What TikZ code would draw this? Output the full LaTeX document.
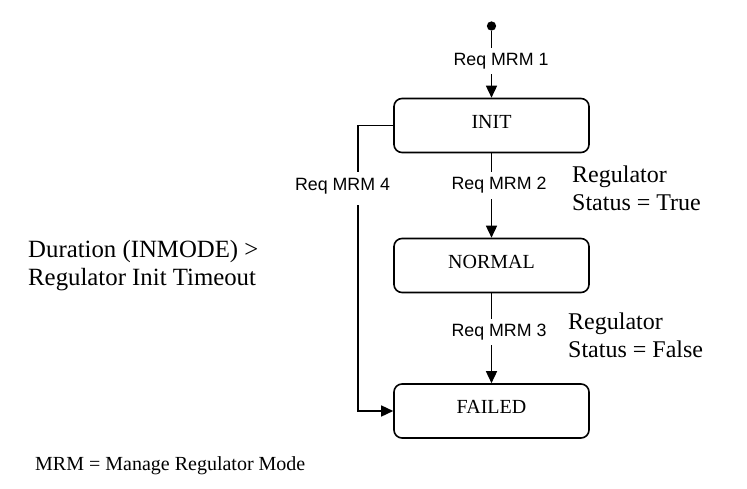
\documentclass[tikz,border=0pt]{standalone}
\usepackage{fontspec}
\setmainfont{Liberation Serif}
\setsansfont{Liberation Sans}
\usetikzlibrary{arrows.meta}
\begin{document}
\begin{tikzpicture}[x=1pt,y=-1pt,
  state/.style={draw, line width=1.6pt, rounded corners=8pt, minimum width=195pt,
    minimum height=54pt, inner sep=0pt, text depth=7.5pt, font=\fontsize{20}{24}\selectfont},
  conn/.style={line width=1.5pt, -{Triangle[length=12pt,width=11pt]}},
  trig/.style={fill=white, inner xsep=2pt, inner ysep=5pt,
    font=\sffamily\fontsize{17.8}{21}\selectfont},
  cond/.style={align=left, inner sep=0pt, anchor=north west,
    font=\fontsize{24}{27.7}\selectfont},
  startdot/.style={circle, fill, inner sep=0pt, minimum size=9.3pt}]
\useasboundingbox (0,0) rectangle (747,489);
\node[startdot] (start) at (491.5,26) {};
\node[state] (init) at (491.5,125.5) {INIT};
\node[state] (normal) at (491.5,265.5) {NORMAL};
\node[state] (failed) at (491.5,411) {FAILED};
\coordinate (bend) at (358,125.5);
\draw[conn] (start) -- (init);
\draw[conn] (init) -- (normal);
\draw[conn] (normal) -- (failed);
\draw[conn] (init.west) -- (bend) |- (failed.west);
\node[trig] (t1) at (501,61) {Req MRM 1};
\node[trig] (t2) at (499,185.5) {Req MRM 2};
\node[trig] (t3) at (499,332) {Req MRM 3};
\node[trig, minimum height=33pt, text depth=8pt] (t4) at (342.5,188.5) {Req MRM 4};
\node[cond] (c1) at (572,166) {Regulator\\Status = True};
\node[cond] (c2) at (568,313) {Regulator\\Status = False};
\node[cond, font=\fontsize{24.8}{28.5}\selectfont] (c3) at (28,240) {Duration (INMODE) >\\Regulator Init Timeout};
\node[anchor=base west, inner sep=0pt, font=\fontsize{20}{24}\selectfont] (note) at (35,470) {MRM = Manage Regulator Mode};
\end{tikzpicture}
\end{document}
